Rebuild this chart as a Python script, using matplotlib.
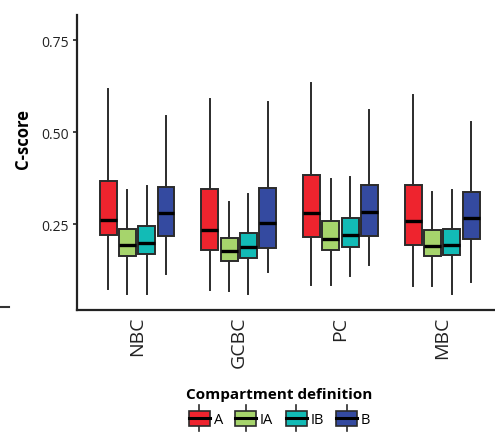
import matplotlib
import matplotlib.pyplot as plt
from matplotlib.legend_handler import HandlerBase
from matplotlib.lines import Line2D
from matplotlib.patches import Patch, Rectangle

matplotlib.use("Agg")

plt.rcParams["font.family"] = ["Open Sans", "DejaVu Sans"]

# Compartment definitions and their box colours
definitions = ["A", "IA", "IB", "B"]
colors = ["#EE242E", "#A6D46C", "#12BBB6", "#344AA0"]

# Cell types along the x axis
cell_types = ["NBC", "GCBC", "PC", "MBC"]

# Box summaries per cell type, one row per definition (A, IA, IB, B)
whisker_low = [
    [0.074, 0.060, 0.061, 0.114],
    [0.070, 0.068, 0.061, 0.120],
    [0.085, 0.086, 0.109, 0.139],
    [0.083, 0.082, 0.061, 0.093],
]
q1 = [
    [0.222, 0.165, 0.168, 0.217],
    [0.180, 0.149, 0.158, 0.186],
    [0.215, 0.181, 0.189, 0.218],
    [0.193, 0.165, 0.166, 0.211],
]
median = [
    [0.262, 0.194, 0.199, 0.280],
    [0.235, 0.177, 0.188, 0.254],
    [0.281, 0.211, 0.222, 0.284],
    [0.260, 0.191, 0.195, 0.266],
]
q3 = [
    [0.368, 0.237, 0.244, 0.350],
    [0.345, 0.213, 0.226, 0.348],
    [0.384, 0.258, 0.266, 0.356],
    [0.357, 0.234, 0.236, 0.339],
]
whisker_high = [
    [0.618, 0.344, 0.353, 0.545],
    [0.590, 0.310, 0.332, 0.582],
    [0.633, 0.372, 0.379, 0.561],
    [0.601, 0.337, 0.342, 0.529],
]

yticks = [0.25, 0.50, 0.75]

EDGE = "#2b2b2b"
BOX_WIDTH = 0.167
OFFSET = 0.19


class BoxKeyHandler(HandlerBase):
    """Legend key drawn as a tiny boxplot glyph."""

    def create_artists(self, legend, orig_handle, xdescent, ydescent,
                       width, height, fontsize, trans):
        cx = width / 2 - xdescent
        cy = height / 2 - ydescent
        bh = height * 1.25
        box = Rectangle((cx - width / 2, cy - bh / 2), width, bh,
                        facecolor=orig_handle.get_facecolor(), edgecolor=EDGE,
                        linewidth=1.2, transform=trans)
        med = Line2D([cx - width / 2, cx + width / 2], [cy, cy],
                     color="black", linewidth=2.2, transform=trans)
        whisk = Line2D([cx, cx], [cy - bh / 2 - 4, cy + bh / 2 + 4],
                       color=EDGE, linewidth=1.2, transform=trans)
        return [whisk, box, med]


fig = plt.figure(figsize=(4.95, 4.39), dpi=100)
ax = fig.add_axes([0.1556, 0.2916, 0.8444, 0.672])

for g, cell in enumerate(cell_types):
    for d, color in enumerate(definitions):
        pos = g + 1 + (d - 1.5) * OFFSET
        stats = [{
            "whislo": whisker_low[g][d],
            "q1": q1[g][d],
            "med": median[g][d],
            "q3": q3[g][d],
            "whishi": whisker_high[g][d],
            "fliers": [],
        }]
        ax.bxp(
            stats,
            positions=[pos],
            widths=BOX_WIDTH,
            patch_artist=True,
            showcaps=False,
            showfliers=False,
            boxprops=dict(facecolor=colors[d], edgecolor=EDGE, linewidth=1.4),
            whiskerprops=dict(color=EDGE, linewidth=1.4),
            medianprops=dict(color="black", linewidth=2.4),
            manage_ticks=False,
        )

ax.set_xlim(0.41, 4.52)
ax.set_ylim(0.017, 0.819)
ax.set_xticks(range(1, len(cell_types) + 1))
ax.set_xticklabels(cell_types, rotation=90, fontsize=14, color="#222222")
ax.tick_params(axis="x", length=0, pad=4)
ax.set_yticks(yticks)
ax.set_yticklabels([f"{t:.2f}" for t in yticks], fontsize=10, color="#222222")
ax.tick_params(axis="y", length=3, width=1.2, color="#222222", pad=3)

ax.set_ylabel("C-score", fontsize=12, fontweight="bold")
ax.yaxis.set_label_coords(-0.108, 0.583)

for side in ["top", "right"]:
    ax.spines[side].set_visible(False)
for side in ["left", "bottom"]:
    ax.spines[side].set_linewidth(1.6)
    ax.spines[side].set_color("#222222")

handles = [Patch(facecolor=c) for c in colors]
leg = fig.legend(
    handles,
    definitions,
    handler_map={Patch: BoxKeyHandler()},
    loc="center",
    bbox_to_anchor=(0.565, 0.07),
    ncol=4,
    frameon=False,
    fontsize=10.5,
    title="Compartment definition",
    title_fontproperties={"weight": "bold", "size": 11},
    handlelength=1.45,
    handleheight=0.9,
    handletextpad=0.25,
    columnspacing=0.85,
)
leg._legend_box.sep = 8

# short stray tick at the far left edge
fig.add_artist(Line2D([0.0, 0.019], [1 - 308 / 439, 1 - 308 / 439],
                      transform=fig.transFigure, color="#333333", linewidth=1.5))

plt.savefig("out.png", dpi=100)
plt.close(fig)
